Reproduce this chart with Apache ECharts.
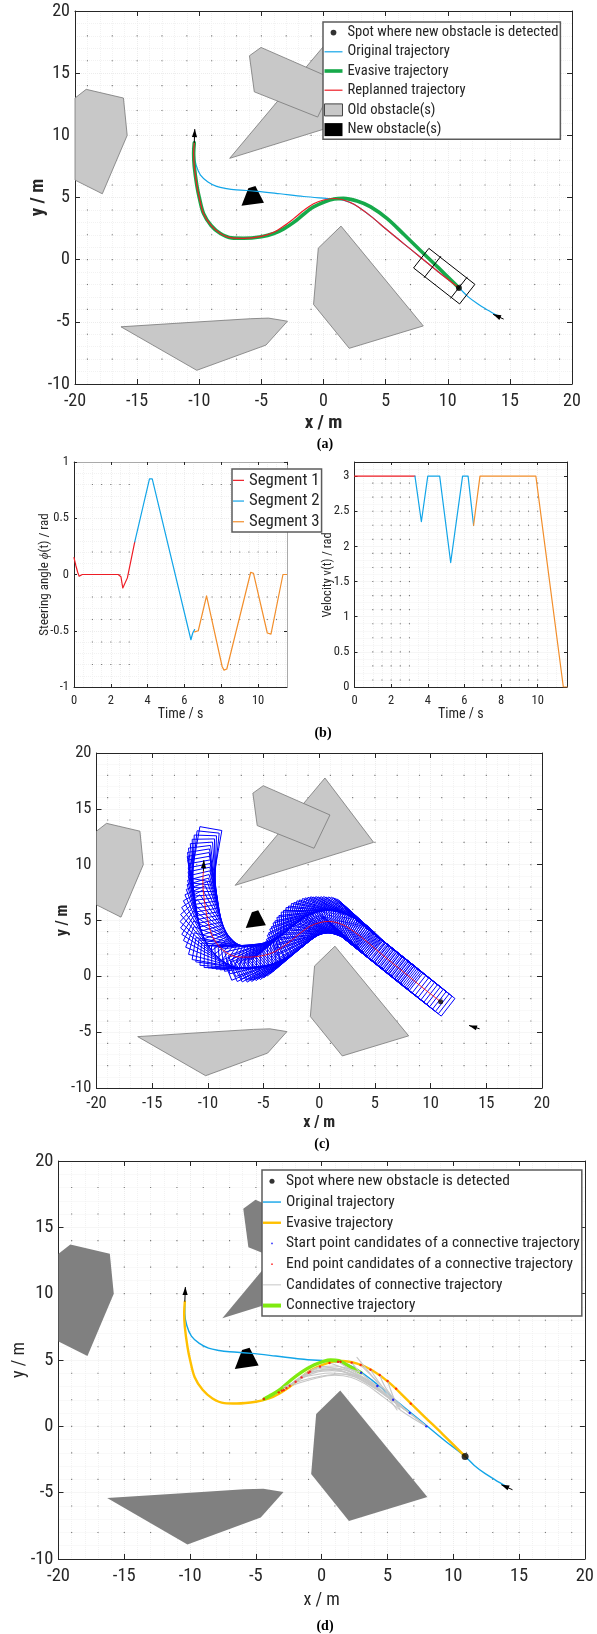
<!DOCTYPE html>
<html><head><meta charset="utf-8">
<style>html,body{margin:0;padding:0;background:#fff}#c{width:597px;height:1634px}</style>
<script src="https://cdn.jsdelivr.net/npm/echarts@6/dist/echarts.min.js"></script>
</head><body><div id="c"></div>
<script>
const NARROW = "'Roboto Condensed','Liberation Sans Narrow','Liberation Sans',sans-serif";
const SERIF = "'Liberation Serif','Times New Roman',serif";

// ---------- data ----------
const oldObstacles = [
  [[-20,13],[-19.1,13.7],[-16.1,13],[-15.8,10],[-17.8,5.3],[-20,6.4]],
  [[0.51,17.76],[4.88,12.0],[-7.55,8.15]],
  [[-5.96,16.4],[-5.03,17.07],[0.96,14.45],[-0.47,11.47],[-5.57,13.5]],
  [[1.41,2.7],[-0.42,0.93],[-0.8,-3.6],[2.07,-7.13],[8.03,-5.33]],
  [[-16.3,-5.4],[-10,-5.0],[-5.9,-4.75],[-4.43,-4.7],[-2.9,-4.95],[-4.63,-6.87],[-10.2,-8.9]]
];
const newObstacle = [[[-6.6,4.33],[-6.05,5.75],[-5.48,5.92],[-4.79,4.58]]];

const originalPath = [[14.0,-4.5],[13.2,-4.05],[12.4,-3.55],[11.6,-2.95],[10.9,-2.27],[9.2,-0.95],[7.8,0.2],[6.5,1.25],[5.1,2.4],[3.8,3.5],[2.45,4.45],[1.6,4.78],[0.85,4.88],[-1.6,5.08],[-3.5,5.3],[-5.35,5.5],[-7,5.62],[-7.8,5.72],[-8.6,5.9],[-9.3,6.25],[-9.9,6.8],[-10.25,7.6],[-10.4,8.5],[-10.4,9.4]];
const evasivePath = [[10.9,-2.27],[9.2,-0.6],[7.82,0.72],[6.5,2.0],[5.13,3.3],[3.8,4.25],[2.7,4.72],[1.6,4.93],[0.85,4.88],[-0.8,4.25],[-1.6,3.65],[-2.4,3.0],[-3.2,2.48],[-4,2.1],[-5,1.85],[-6.45,1.72],[-7.4,1.75],[-8.3,2.1],[-9.05,2.75],[-9.65,3.7],[-10.0,5],[-10.2,6],[-10.4,7.5],[-10.45,8.55],[-10.4,9.4]];
const replannedPath = [[10.9,-2.27],[9.2,-0.95],[7.8,0.2],[6.5,1.25],[5.1,2.4],[3.8,3.5],[2.45,4.45],[1.6,4.8],[0.85,4.92],[0,4.8],[-0.8,4.5],[-1.6,3.95],[-2.4,3.3],[-3.2,2.7],[-4,2.2],[-5,1.87],[-6.45,1.72],[-7.4,1.75],[-8.3,2.1],[-9.05,2.75],[-9.65,3.7],[-10.0,5],[-10.2,6],[-10.4,7.5],[-10.45,8.55],[-10.4,9.4]];
const detectedSpot = [[10.9,-2.27]];
const startArrow = [[14.5,-4.78,13.65,-4.4]];
const endArrow = [[-10.4,9.4,-10.36,10.5]];
const carPose = [[10.9,-2.25,142]];

const footX = [10.9,10.64,10.38,10.12,9.86,9.6,9.34,9.08,8.82,8.56,8.3,8.04,7.78,7.52,7.26,7.0,6.74,6.48,6.22,5.96,5.7,5.44,5.18,4.93,4.68,4.44,4.21,3.97,3.72,3.46,3.18,2.88,2.57,2.26,1.94,1.62,1.3,0.97,0.64,0.31,-0.01,-0.33,-0.63,-0.91,-1.18,-1.44,-1.7,-1.96,-2.22,-2.48,-2.74,-3.01,-3.29,-3.58,-3.88,-4.19,-4.5,-4.83,-5.15,-5.48,-5.81,-6.14,-6.47,-6.8,-7.13,-7.45,-7.76,-8.05,-8.33,-8.57,-8.8,-9.0,-9.17,-9.33,-9.46,-9.58,-9.68,-9.78,-9.86,-9.93,-10.0,-10.05,-10.1,-10.15,-10.2,-10.24,-10.28,-10.31,-10.34,-10.36,-10.38,-10.4];
const footY = [-2.25,-2.04,-1.83,-1.62,-1.41,-1.2,-1.0,-0.79,-0.58,-0.37,-0.16,0.05,0.26,0.47,0.68,0.88,1.09,1.3,1.51,1.72,1.93,2.14,2.34,2.55,2.77,3.0,3.24,3.47,3.69,3.9,4.08,4.25,4.4,4.54,4.66,4.76,4.84,4.9,4.9,4.85,4.78,4.68,4.54,4.37,4.18,3.98,3.78,3.58,3.37,3.17,2.97,2.78,2.6,2.44,2.3,2.18,2.07,1.98,1.91,1.84,1.78,1.75,1.72,1.72,1.75,1.82,1.94,2.09,2.28,2.5,2.75,3.01,3.29,3.58,3.88,4.19,4.51,4.82,5.14,5.47,5.8,6.13,6.46,6.79,7.12,7.45,7.78,8.11,8.44,8.77,9.1,9.44];
const footH = [142,142,142,142,142,142,142,142,142,142,142,142,142,142,142,142,142,142,142,142,142,142,142,141,140,139,138,138,139,141,145,148,151,154,158,163,168,174,180,186,192,198,204,210,214,217,218,218,218,218,217,215,213,210,205,199,193,188,185,183,181,180,179,176,172,170,165,158,152,147,142,137,131,125,119,114,110,107,105,103,102,101,100,100,100,99,97,94,91,88,84,80];
const foot2X = [7.91,7.65,7.39,7.13,6.87,6.61,6.35,6.09,5.83,5.57,5.31,5.05,4.8,4.56,4.32,4.09,3.85,3.59,3.32,3.03,2.72,2.41,2.1,1.78,1.46,1.13,0.8,0.47,0.15,-0.17,-0.48,-0.77,-1.05,-1.31,-1.57,-1.83,-2.09,-2.35,-2.61,-2.87,-3.15,-3.43,-3.73,-4.03,-4.34,-4.66];
const foot2Y = [0.155,0.365,0.575,0.78,0.985,1.2,1.4,1.615,1.825,2.035,2.24,2.45,2.66,2.88,3.12,3.35,3.58,3.8,4.0,4.17,4.33,4.47,4.6,4.71,4.8,4.87,4.9,4.88,4.82,4.73,4.61,4.46,4.28,4.08,3.88,3.68,3.47,3.27,3.07,2.87,2.69,2.52,2.37,2.24,2.12,2.02];
const foot2H = [142,142,142,142,142,142,142,142,142,142,142,142,141,140,139,138,138,140,143,146,150,153,156,160,165,170,176,182,188,194,200,206,212,216,219,220,220,220,219,218,216,214,212,209,206,202];

const steerT1 = [0,0.1,0.2,0.28,0.35,0.45,2.4,2.5,2.55,2.65,2.75,2.9,3.3];
const steerV1 = [0.15,0.08,0.02,-0.015,-0.01,0,0,0.01,-0.02,-0.12,-0.11,-0.03,0.29];
const steerT2 = [3.3,4.1,4.25,6.35,6.45,6.55];
const steerV2 = [0.29,0.85,0.85,-0.58,-0.52,-0.49];
const steerT3 = [6.55,6.75,7.2,8.05,8.15,8.3,9.6,9.75,10.5,10.7,11.35,11.55];
const steerV3 = [-0.51,-0.5,-0.19,-0.82,-0.85,-0.84,0.02,0.01,-0.52,-0.53,0,0];
const velT1 = [0,3.3];
const velV1 = [3,3];
const velT2 = [3.3,3.65,4.0,4.65,5.25,5.9,6.2,6.5];
const velV2 = [3,2.35,3,3,1.77,3,3,2.3];
const velT3 = [6.5,6.85,9.9,11.4,11.6];
const velV3 = [2.3,3,3,0,0];

const startCandidates = [[3.0,4.04],[4.23,3.04],[5.43,2.0],[6.69,1.0],[7.95,0]];
const endCandidates = [[-4.39,2.06],[-3.26,2.56],[-3.03,2.69],[-2.88,2.74],[-2.68,2.89],[-2.43,3.06],[-1.98,3.36],[-1.53,3.69],[-1.0,4.04],[-0.88,4.12],[-0.12,4.5],[0.6,4.77],[1.25,4.87],[1.43,4.87],[2.28,4.8],[2.96,4.62],[3.71,4.27],[4.41,3.87],[5.01,3.42],[5.66,2.84],[6.77,1.71]];
const connectivePath = [[-4.39,2.06],[-3.26,2.7],[-2.33,3.49],[-1.5,4.1],[-0.59,4.62],[0.2,4.92],[0.68,5.0],[1.3,4.95],[1.93,4.62],[2.5,4.3],[3.0,4.04]];
const candidateCurves = [
  [[7.95,0],[6.69,1.0],[4.33,2.74],[2.9,3.74],[1.5,3.95],[0,3.79],[-1.5,3.45],[-2.9,2.96]],
  [[7.95,0],[6.69,1.0],[4.91,2.25],[3.16,3.45],[1.91,3.9],[0.66,4.02],[-0.59,3.87],[-1.53,3.69]],
  [[7.95,0],[6.3,1.0],[4.7,2.2],[3.3,3.2],[2.2,3.7],[1,3.85],[-0.5,3.6],[-2.2,3.1]],
  [[6.69,1.0],[5.2,2.1],[3.6,3.2],[2.2,3.95],[0.8,4.2],[-0.5,4.05],[-1.98,3.36]],
  [[6.69,1.0],[5.4,1.9],[4.1,3.0],[2.7,3.85],[1.3,4.3],[-0.2,4.2],[-1.0,4.04]],
  [[5.43,2.0],[4.2,2.9],[2.9,3.7],[1.6,4.15],[0.4,4.3],[-0.9,4.0],[-2.43,3.06]],
  [[4.23,3.04],[3.2,3.65],[2.2,4.1],[1.1,4.4],[0,4.38],[-1.3,3.85],[-2.68,2.89]],
  [[3.0,4.04],[2.0,4.35],[1.0,4.55],[0,4.5],[-1.2,4.0],[-2.88,2.74]],
  [[5.43,2.0],[3.8,3.0],[2.3,3.85],[1,4.35],[-0.12,4.5]],
  [[6.69,1.0],[5,2.3],[3.6,3.3],[2.3,4.1],[1.25,4.55],[0.6,4.77]],
  [[4.23,3.04],[3,3.8],[2,4.4],[1.25,4.87]],
  [[7.95,0],[6.4,1.2],[4.9,2.4],[3.6,3.5],[2.8,4.2],[2.28,4.8]],
  [[6.69,1.0],[5.6,2],[4.6,3],[3.7,3.9],[2.96,4.62]],
  [[5.43,2.0],[4.9,2.6],[4.3,3.4],[3.71,4.27]],
  [[5.73,1.23],[4.9,2.4],[3.9,3.7],[2.68,5.2]],
  [[5.75,1.5],[5.3,2.3],[4.8,3.0],[4.41,3.87]],
  [[5.95,1.3],[5.5,2.1],[5.01,3.42]]
];

const latticeX = [-19,-17,-15,-13,-11,-9,-7,-5,-3,-1,1,3,5,7,9,11,13,15,17,19];
const latticeY = [-8,-6,-4,-2,0,2,4,6,8,10,12,14,16,18];
const steerDotT = [1,1.5,2,2.5,3,7,7.5,8,8.5,9,9.5,10,10.5,11];
const steerDotV = [-0.8,-0.6,-0.4,-0.2,0,0.2,0.8];
const velDotT = [1,1.5,2,2.5,3,7,7.5,8,8.5,9,9.5,10];
const velDotV = [0.1,0.3,0.5,0.7,0.9,1.1,1.3,1.5,1.7,1.9,2.1,2.3,2.5,2.7,2.9];

const captions = ['(a)','(b)','(c)','(d)'];
const velocityAxisName = 'Velocity v(t) / rad';
// ---------- end of data ----------

const zip = (a,b)=>a.map((v,i)=>[v,b[i]]);
const CYAN='#12a5e8', GREEN='#16a94a', RED='#ee1c25', ORANGE='#ffc000', LIME='#7fea10', GRAY='#c6c6c6', TXT='#262626', AMBER='#f28e2b';
const grids=[], xAxes=[], yAxes=[], series=[];
const dotIcon = r => `path://M0 0M100 100M${50-r} 50a${r} ${r} 0 1 0 ${2*r} 0a${r} ${r} 0 1 0 ${-2*r} 0z`;
const barIcon = (w,h,t) => { const W=w*10,H=h*10,T=t*10,Y=(H-T)/2; return `path://M0 0M${W} ${H}M0 ${Y}h${W}v${T}h${-W}z`; };

function axis(o, isX, idx){
  const common = {gridIndex:idx,type:'value',min:o.min,max:o.max,interval:o.interval,
    axisLine:{onZero:false,lineStyle:{color:TXT,width:1}},
    axisTick:{inside:true,length:o.tick||5,lineStyle:{color:TXT,width:1}},
    minorTick:{show:false,splitNumber:o.minor},
    minorSplitLine:{show:false},splitLine:{show:false}};
  const main = Object.assign({},common,{position:isX?'bottom':'left',
    axisLabel:{fontFamily:NARROW,fontSize:o.fs,color:TXT,margin:o.margin,showMaxLabel:o.hideMax?false:true,hideOverlap:false},
    splitLine:{show:true,lineStyle:{type:'dotted',color:'#ececec',width:1}},
    minorSplitLine:{show:true,lineStyle:{type:'dotted',color:'#f2f2f2',width:1}},
    name:o.name,nameLocation:'middle',nameGap:o.nameGap,nameRotate:isX?0:90,nameMoveOverlap:false,
    nameTextStyle:Object.assign({fontFamily:NARROW,fontSize:o.nameFs,fontWeight:o.nameBold?'bold':'normal',color:TXT},o.nameRich?{rich:o.nameRich}:{})});
  const mirror = Object.assign({},common,{position:isX?'top':'right',axisLabel:{show:false}});
  if(o.mirrorColor) mirror.axisLine={onZero:false,lineStyle:{color:o.mirrorColor,width:1}};
  return [main,mirror];
}
function panel(rect,xo,yo){
  const g=grids.length; grids.push(Object.assign({containLabel:false},rect));
  const xi=xAxes.length, yi=yAxes.length;
  xAxes.push(...axis(xo,true,g)); yAxes.push(...axis(yo,false,g));
  return {xAxisIndex:xi,yAxisIndex:yi};
}
const add=(ax,s)=>series.push(Object.assign({},ax,{animation:false,silent:true},s));
const line=(ax,name,data,color,width,z,smooth)=>add(ax,{type:'line',name,data,showSymbol:false,symbol:'none',smooth:smooth===undefined?0.35:smooth,
  lineStyle:{color,width,cap:'round',join:'round'},itemStyle:{color},z:z});
const dots=(ax,name,data,color,size,z)=>add(ax,{type:'scatter',name,data,symbol:'circle',symbolSize:size,itemStyle:{color},z});
function lattice(ax,xs,ys){
  const d=[]; ys.forEach(y=>xs.forEach(x=>d.push([x,y])));
  add(ax,{type:'scatter',name:'lattice',data:d,symbol:'rect',symbolSize:1.1,itemStyle:{color:'#555'},z:1});
}
function polygons(ax,name,polys,style,z){
  add(ax,{type:'custom',name,z,itemStyle:{color:style.fill},
    data:polys.map((p,i)=>[p[0][0],p[0][1],i]),
    renderItem:(pr,api)=>({type:'polygon',shape:{points:polys[api.value(2)].map(pt=>api.coord(pt))},style})});
}
function carCorners(api,x,y,h,rear,front,half){
  const c=Math.cos(h*Math.PI/180), s=Math.sin(h*Math.PI/180);
  const at=(a,b)=>api.coord([x+a*c-b*s,y+a*s+b*c]);
  return {at,pts:[at(-rear,-half),at(front,-half),at(front,half),at(-rear,half)]};
}
function poses(ax,name,data,stroke,lw,z,axles){
  add(ax,{type:'custom',name,z,data,renderItem:(pr,api)=>{
    const k=carCorners(api,api.value(0),api.value(1),api.value(2),0.85,3.85,1);
    const children=[{type:'polygon',shape:{points:k.pts},style:{fill:'none',stroke,lineWidth:lw}}];
    (axles||[]).forEach(a=>{const p=k.at(a,-1.1),q=k.at(a,1.1);
      children.push({type:'line',shape:{x1:p[0],y1:p[1],x2:q[0],y2:q[1]},style:{stroke,lineWidth:lw}});});
    return {type:'group',children};
  }});
}
function arrows(ax,data,z){
  add(ax,{type:'custom',name:'arrow',z,data,renderItem:(pr,api)=>{
    const a=api.coord([api.value(0),api.value(1)]), b=api.coord([api.value(2),api.value(3)]);
    const dx=b[0]-a[0],dy=b[1]-a[1],n=Math.hypot(dx,dy)||1,ux=dx/n,uy=dy/n,L=8,W=2.6;
    return {type:'group',children:[
      {type:'line',shape:{x1:a[0],y1:a[1],x2:b[0],y2:b[1]},style:{stroke:'#000',lineWidth:1}},
      {type:'polygon',shape:{points:[b,[b[0]-L*ux-W*uy,b[1]-L*uy+W*ux],[b[0]-L*ux+W*uy,b[1]-L*uy-W*ux]]},style:{fill:'#000'}}]};
  }});
}
const mapAxis=(fs,name,extra)=>Object.assign({min:-20,max:20,interval:5,minor:5,fs,name},extra);

// ---- panel (a)
const A=panel({left:75,top:11,width:497,height:373},
  mapAxis(18,'x / m',{margin:8,nameGap:29.5,nameFs:19,nameBold:true}),
  mapAxis(18,'y / m',{min:-10,margin:5,nameGap:27.5,nameFs:19,nameBold:true}));
lattice(A,latticeX,latticeY);
polygons(A,'Old obstacle(s)',oldObstacles,{fill:'#c8c8c8',stroke:'#777',lineWidth:0.8},3);
polygons(A,'New obstacle(s)',newObstacle,{fill:'#000'},4);
line(A,'Original trajectory',originalPath,CYAN,1.2,5);
line(A,'Evasive trajectory',evasivePath,GREEN,3.6,6);
line(A,'Replanned trajectory',replannedPath,RED,1.2,7);
poses(A,'car',carPose,'#000',1,8,[0,2.7]);
dots(A,'Spot where new obstacle is detected',detectedSpot,'#000',6,9);
arrows(A,startArrow.concat(endArrow),9);

// ---- panel (b)
const B1=panel({left:74,top:462,width:213,height:225},
  {min:0,max:11.57,interval:2,minor:4,fs:12.5,margin:7,name:'Time / s',nameGap:20,nameFs:14,hideMax:true,tick:3,mirrorColor:'#aaaaaa'},
  {min:-1,max:1,interval:0.5,minor:5,fs:12.5,margin:5,nameGap:23,nameFs:13,tick:3,mirrorColor:'#aaaaaa',
   name:'{a|Steering angle }{i|\u03D5}{a|(t) / rad}',nameRich:{a:{fontFamily:NARROW,fontSize:13,color:TXT},i:{fontFamily:SERIF,fontStyle:'italic',fontSize:13,color:TXT}}});
lattice(B1,steerDotT,steerDotV);
line(B1,'Segment 1',zip(steerT1,steerV1),RED,1.2,5,false);
line(B1,'Segment 2',zip(steerT2,steerV2),CYAN,1.2,5,false);
line(B1,'Segment 3',zip(steerT3,steerV3),AMBER,1.2,5,false);
const B2=panel({left:354.5,top:462,width:212.5,height:225},
  {min:0,max:11.6,interval:2,minor:4,fs:12.5,margin:7,name:'Time / s',nameGap:20,nameFs:14,hideMax:true,tick:3},
  {min:0,max:3.2,interval:0.5,minor:5,fs:12.5,margin:5,hideMax:true,tick:3,nameGap:20,nameFs:12.5});
lattice(B2,velDotT,velDotV);
line(B2,'Segment 1',zip(velT1,velV1),RED,1.2,5,false);
line(B2,'Segment 2',zip(velT2,velV2),CYAN,1.2,5,false);
line(B2,'Segment 3',zip(velT3,velV3),AMBER,1.2,5,false);

// ---- panel (c)
const C=panel({left:96.5,top:753,width:445.5,height:335},
  mapAxis(16.5,'x / m',{margin:7,nameGap:26.5,nameFs:16,nameBold:true}),
  mapAxis(16.5,'y / m',{min:-10,margin:5,nameGap:26,nameFs:16,nameBold:true}));
lattice(C,latticeX,latticeY);
polygons(C,'obstacles c',oldObstacles,{fill:'#c8c8c8',stroke:'#777',lineWidth:0.8},3);
polygons(C,'new obstacle c',newObstacle,{fill:'#000'},4);
poses(C,'footprints',footX.map((x,i)=>[x,footY[i],footH[i]]),'#0000ff',1,5);
poses(C,'footprints second pass',foot2X.map((x,i)=>[x,foot2Y[i],foot2H[i]]),'#0000ff',1,5);
line(C,'planned path c',replannedPath,'#ff0000',0.8,6);
dots(C,'spot c',detectedSpot,'#000',5,8);
arrows(C,[[14.4,-4.7,13.45,-4.4],[-10.4,9.4,-10.36,10.4]],8);

// ---- panel (d)
const D=panel({left:58.5,top:1161,width:531.5,height:398},
  mapAxis(18.5,'x / m',{margin:8,nameGap:32,nameFs:18}),
  mapAxis(18.5,'y / m',{min:-10,margin:5,nameGap:30.5,nameFs:18}));
lattice(D,latticeX,latticeY);
polygons(D,'obstacles d',oldObstacles,{fill:'#808080'},3);
polygons(D,'new obstacle d',newObstacle,{fill:'#000'},4);
line(D,'Original trajectory',originalPath,CYAN,1.4,5);
line(D,'Evasive trajectory',evasivePath,ORANGE,2.4,6);
line(D,'Connective trajectory',connectivePath,LIME,3.4,7);
candidateCurves.forEach(c=>line(D,'Candidates of connective trajectory',c,GRAY,1.1,8,0.4));
dots(D,'Start point candidates of a connective trajectory',startCandidates,'#0000ff',2.4,9);
dots(D,'End point candidates of a connective trajectory',endCandidates,'#ff0000',2.4,9);
dots(D,'Spot where new obstacle is detected',detectedSpot,'#000',7,10);
arrows(D,startArrow.concat(endArrow),10);

const legendBase={orient:'vertical',align:'left',backgroundColor:'#fff',borderColor:'#5c5c5c',borderWidth:1.5,borderRadius:0,
  selectedMode:false,z:30,textStyle:{fontFamily:NARROW,color:TXT}};
const barItem=(name,color,w,h,t)=>({name,icon:barIcon(w,h,t),itemStyle:{color,borderWidth:0}});
const spot=(r)=>({name:'Spot where new obstacle is detected',icon:dotIcon(r),itemStyle:{color:'#000',borderWidth:0}});
const rows=(fs,gapRow)=>({textStyle:Object.assign({},legendBase.textStyle,{fontSize:fs,lineHeight:gapRow,height:gapRow}),itemGap:0,itemHeight:gapRow});
const legends=[
  Object.assign({},legendBase,rows(14.6,19.2),{left:323,top:22,padding:[1,2,0,1],itemWidth:18,
    data:[spot(16),barItem('Original trajectory',CYAN,18,19.2,1.2),barItem('Evasive trajectory',GREEN,18,19.2,3.6),barItem('Replanned trajectory',RED,18,19.2,1.2),
      {name:'Old obstacle(s)',icon:barIcon(18,19.2,12),itemStyle:{color:'#c8c8c8',borderColor:'#444',borderWidth:1}},
      barItem('New obstacle(s)','#000',18,19.2,13)]}),
  Object.assign({},legendBase,rows(16.8,20.7),{left:232,top:469,padding:[1,2,0,1],itemWidth:11,
    data:[barItem('Segment 1',RED,11,20.7,1.2),barItem('Segment 2',CYAN,11,20.7,1.2),barItem('Segment 3',AMBER,11,20.7,1.2)]}),
  Object.assign({},legendBase,rows(15.5,20.7),{left:262,top:1170,padding:[1,2,0,1],itemWidth:18,
    data:[spot(14),barItem('Original trajectory',CYAN,18,20.7,1.4),barItem('Evasive trajectory',ORANGE,18,20.7,2.4),
      {name:'Start point candidates of a connective trajectory',icon:dotIcon(5),itemStyle:{color:'#0000ff',borderWidth:0}},
      {name:'End point candidates of a connective trajectory',icon:dotIcon(5),itemStyle:{color:'#ff0000',borderWidth:0}},
      barItem('Candidates of connective trajectory',GRAY,18,20.7,1),barItem('Connective trajectory',LIME,18,20.7,4)]})
];
const capPos=[[325,437],[323,726],[322,1137],[325,1619]];
const titles=captions.map((t,i)=>({text:t,left:capPos[i][0],top:capPos[i][1],textAlign:'center',padding:0,
  textStyle:{fontFamily:SERIF,fontWeight:'bold',fontSize:14,color:'#000'}}));
const graphic=[{type:'text',x:328,y:575,rotation:Math.PI/2,silent:true,
  style:{text:velocityAxisName,font:`12.5px ${NARROW}`,fill:TXT,align:'center',verticalAlign:'middle'}}];

const chart=echarts.init(document.getElementById('c'),null,{renderer:'canvas'});
chart.setOption({animation:false,backgroundColor:'#fff',title:titles,grid:grids,xAxis:xAxes,yAxis:yAxes,legend:legends,series,graphic});
</script></body></html>
